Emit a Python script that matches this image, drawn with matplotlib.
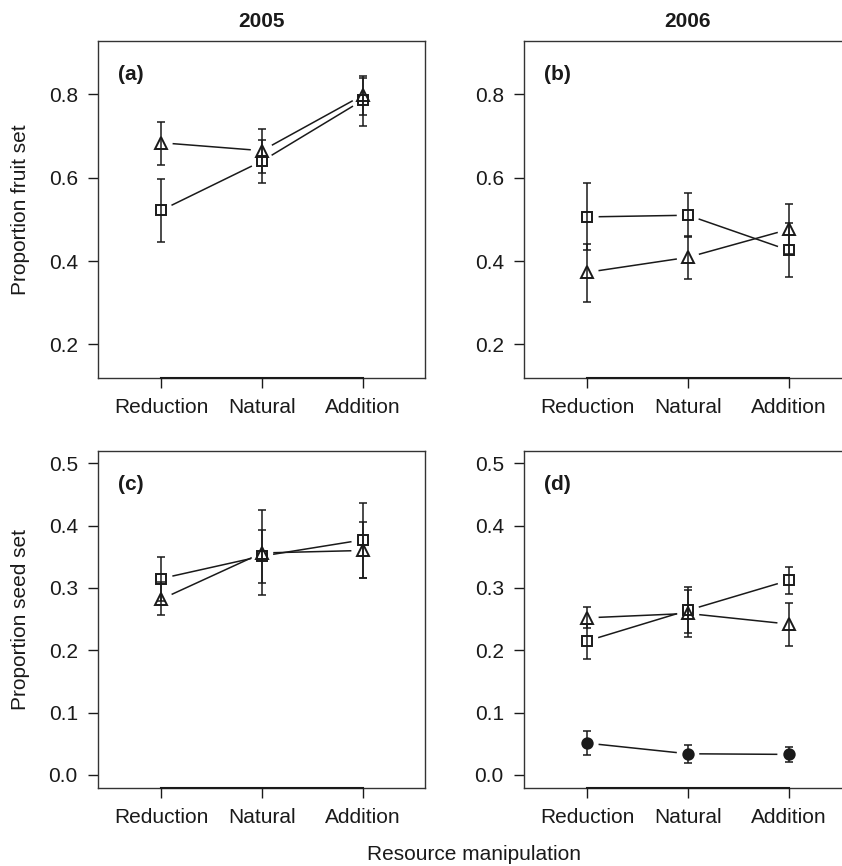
import matplotlib
matplotlib.use('Agg')
import matplotlib.pyplot as plt
import numpy as np

plt.rcParams['font.family'] = ['Liberation Sans', 'DejaVu Sans']

#Data (means with lower / upper error bar ends)
treatments = ['Reduction', 'Natural', 'Addition']
years = ['2005', '2006']

#(a) fruit set 2005
a_sq = [0.522, 0.640, 0.786]
a_sq_lo = [0.446, 0.587, 0.724]
a_sq_hi = [0.598, 0.690, 0.840]
a_tri = [0.684, 0.665, 0.798]
a_tri_lo = [0.630, 0.612, 0.750]
a_tri_hi = [0.734, 0.718, 0.845]

#(b) fruit set 2006
b_sq = [0.506, 0.510, 0.426]
b_sq_lo = [0.426, 0.458, 0.362]
b_sq_hi = [0.588, 0.564, 0.492]
b_tri = [0.373, 0.409, 0.476]
b_tri_lo = [0.302, 0.358, 0.416]
b_tri_hi = [0.440, 0.459, 0.538]

#(c) seed set 2005
c_sq = [0.315, 0.351, 0.377]
c_sq_lo = [0.279, 0.289, 0.316]
c_sq_hi = [0.350, 0.425, 0.436]
c_tri = [0.282, 0.356, 0.360]
c_tri_lo = [0.256, 0.308, 0.316]
c_tri_hi = [0.309, 0.393, 0.405]

#(d) seed set 2006
d_sq = [0.215, 0.264, 0.312]
d_sq_lo = [0.186, 0.227, 0.290]
d_sq_hi = [0.242, 0.302, 0.333]
d_tri = [0.252, 0.259, 0.242]
d_tri_lo = [0.235, 0.222, 0.207]
d_tri_hi = [0.270, 0.296, 0.275]
d_dot = [0.051, 0.034, 0.033]
d_dot_lo = [0.032, 0.020, 0.021]
d_dot_hi = [0.071, 0.048, 0.045]

fruitTicks = [0.2, 0.4, 0.6, 0.8]
seedTicks = [0.0, 0.1, 0.2, 0.3, 0.4, 0.5]

ink = '#1a1a1a'
fs = 15
W, H = 842, 866
fig = plt.figure(figsize=(W / 100, H / 100), dpi=100)

def axesAt(left, top, right, bottom):
    return fig.add_axes([left / W, 1 - bottom / H, (right - left) / W, (bottom - top) / H])

def drawSeries(ax, y, lo, hi, marker, ms, filled, gap=12):
    x = np.arange(1, len(y) + 1)
    y = np.asarray(y)
    ax.errorbar(x, y, yerr=[y - np.asarray(lo), np.asarray(hi) - y], fmt='none',
                ecolor=ink, elinewidth=1.1, capsize=3, capthick=1.1, zorder=2)
    #R style type="b": segments stop short of the points
    pts = ax.transData.transform(np.column_stack([x, y]))
    inv = ax.transData.inverted()
    for p0, p1 in zip(pts[:-1], pts[1:]):
        d = p1 - p0
        L = np.hypot(*d)
        u = d / L
        seg = inv.transform(np.array([p0 + u * gap, p1 - u * gap]))
        ax.plot(seg[:, 0], seg[:, 1], color=ink, lw=1.1, zorder=2)
    ax.plot(x, y, linestyle='none', marker=marker, ms=ms, mew=1.4,
            mec=ink, mfc=ink if filled else 'none', zorder=3)

def setupAxes(ax, ylim, yticks, label):
    ax.set_xlim(0.37, 3.62)
    ax.set_ylim(*ylim)
    ax.set_xticks([1, 2, 3])
    ax.set_xticklabels(treatments)
    ax.set_yticks(yticks)
    ax.set_yticklabels(['%.1f' % t for t in yticks])
    ax.tick_params(direction='out', length=7.5, width=1, colors=ink, labelsize=fs, pad=7)
    for s in ax.spines.values():
        s.set_color('#333333')
        s.set_linewidth(1)
    ax.plot([1, 3], [ylim[0], ylim[0]], color=ink, lw=1.5, clip_on=False, zorder=4)
    ax.text(0.06, 0.9, label, transform=ax.transAxes, fontsize=fs, fontweight='bold',
            color=ink, ha='left', va='center')

fruitLim = (0.12, 0.929)
seedLim = (-0.0204, 0.52)

axA = axesAt(98, 40.7, 425, 377.7)
axB = axesAt(524, 40.7, 851, 377.7)
axC = axesAt(98, 450.7, 425, 787.7)
axD = axesAt(524, 450.7, 851, 787.7)

setupAxes(axA, fruitLim, fruitTicks, '(a)')
setupAxes(axB, fruitLim, fruitTicks, '(b)')
setupAxes(axC, seedLim, seedTicks, '(c)')
setupAxes(axD, seedLim, seedTicks, '(d)')

drawSeries(axA, a_sq, a_sq_lo, a_sq_hi, 's', 6.5, False)
drawSeries(axA, a_tri, a_tri_lo, a_tri_hi, '^', 8.5, False)
drawSeries(axB, b_sq, b_sq_lo, b_sq_hi, 's', 6.5, False)
drawSeries(axB, b_tri, b_tri_lo, b_tri_hi, '^', 8.5, False)
drawSeries(axC, c_sq, c_sq_lo, c_sq_hi, 's', 6.5, False)
drawSeries(axC, c_tri, c_tri_lo, c_tri_hi, '^', 8.5, False)
drawSeries(axD, d_sq, d_sq_lo, d_sq_hi, 's', 6.5, False)
drawSeries(axD, d_tri, d_tri_lo, d_tri_hi, '^', 8.5, False)
drawSeries(axD, d_dot, d_dot_lo, d_dot_hi, 'o', 7.5, True)

fig.text(261.5 / W, 1 - 21.7 / H, years[0], ha='center', va='center', fontsize=fs,
         fontweight='bold', color=ink)
fig.text(687.5 / W, 1 - 21.7 / H, years[1], ha='center', va='center', fontsize=fs,
         fontweight='bold', color=ink)
fig.text(21 / W, 1 - 209.2 / H, 'Proportion fruit set', rotation=90, ha='center',
         va='center', fontsize=fs, color=ink)
fig.text(21 / W, 1 - 619.2 / H, 'Proportion seed set', rotation=90, ha='center',
         va='center', fontsize=fs, color=ink)
fig.text(474 / W, 1 - 855 / H, 'Resource manipulation', ha='center', va='center',
         fontsize=fs, color=ink)

fig.savefig('out.png', dpi=100)
